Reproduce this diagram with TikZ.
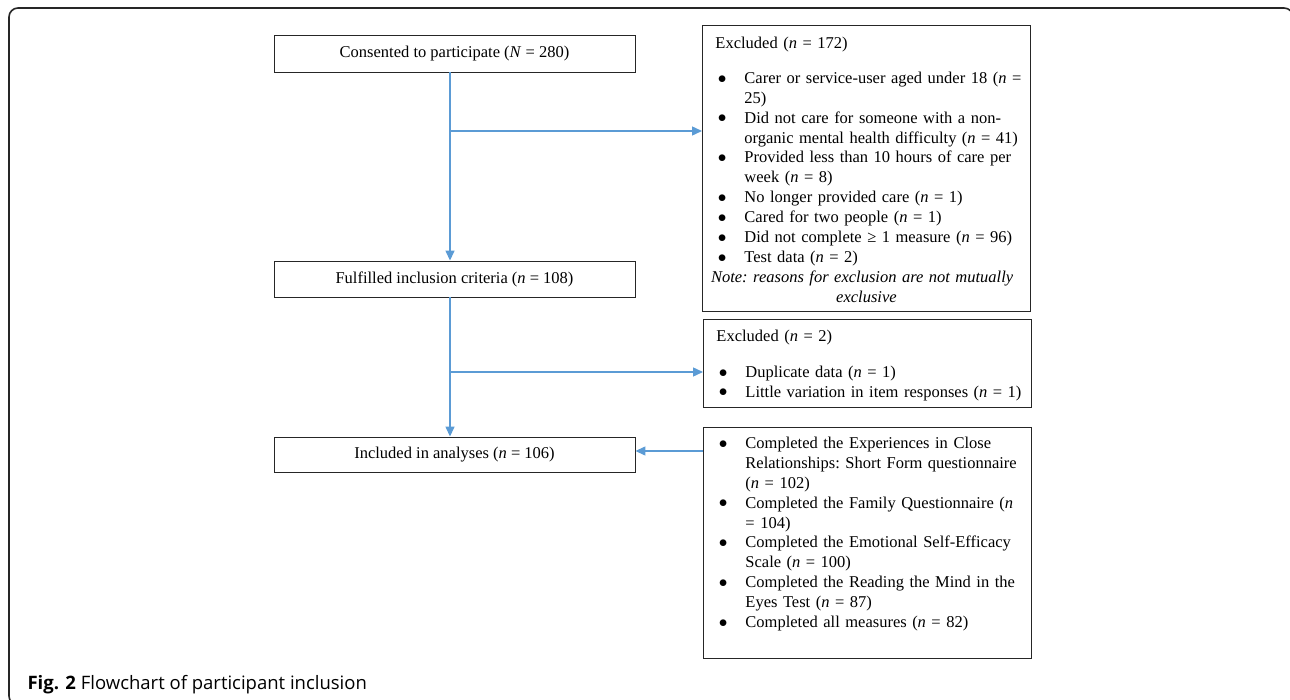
\documentclass[tikz,border=0pt]{standalone}
\usepackage{fontspec}
\setmainfont{Liberation Serif}
\newfontfamily\capfont{Open Sans}
\usetikzlibrary{arrows.meta}
\definecolor{flowblue}{RGB}{91,155,213}
\tikzset{
	stage/.style={draw=black!85, line width=0.9pt, minimum width=361pt, inner sep=0pt, font=\fontsize{16.5}{19.9}\selectfont},
	exbox/.style={draw=black!85, line width=0.9pt, anchor=north west, text width=328pt, inner sep=0pt, font=\fontsize{16.5}{19.9}\selectfont\frenchspacing},
	flow/.style={flowblue, line width=1.4pt, -{Triangle[length=10pt,width=9pt]}}
}
\def\exhead{\raggedright\leftskip=13pt\rightskip=0pt plus 1fil\relax}
\def\exitem#1{\hangindent=29pt\hangafter=1\noindent\hbox to 29pt{\hskip2.5pt\raisebox{0.3pt}{$\bullet$}\hfil}#1\par}

\begin{document}
\begin{tikzpicture}[x=1pt, y=-1pt]
			%%%%% START %%%%%
			
			\useasboundingbox (0,0) rectangle (1290,700);
			\clip (0,0) rectangle (1290,700);
			\draw[line width=1.6pt, black!85, rounded corners=9pt] (9,8) rectangle (1293,705);
			
			\node[stage, minimum height=37pt] (consent) at (454.5,53.5) {Consented to participate (\textit{N} = 280)};
			\node[stage, minimum height=36pt] (fulfil) at (454.5,279) {Fulfilled inclusion criteria (\textit{n} = 108)};
			\node[stage, minimum height=35pt] (incl) at (454.5,454.5) {Included in analyses (\textit{n} = 106)};
			
			\node[exbox, text height=23pt, text depth=263pt] (excl1) at (702,25) {\exhead Excluded (\textit{n} = 172)\par\vspace{15pt}
				\exitem{Carer or service-user aged under 18 (\textit{n} =\newline 25)}
				\exitem{Did not care for someone with a non-\newline organic mental health difficulty (\textit{n} = 41)}
				\exitem{Provided less than 10 hours of care per\newline week (\textit{n} = 8)}
				\exitem{No longer provided care (\textit{n} = 1)}
				\exitem{Cared for two people (\textit{n} = 1)}
				\exitem{Did not complete ≥ 1 measure (\textit{n} = 96)}
				\exitem{Test data (\textit{n} = 2)}
				{\centering\itshape Note: reasons for exclusion are not mutually\newline exclusive\par}};
			
			\node[exbox, text height=22pt, text depth=66pt] (excl2) at (703,319) {\exhead Excluded (\textit{n} = 2)\par\vspace{16pt}
				\exitem{Duplicate data (\textit{n} = 1)}
				\exitem{Little variation in item responses (\textit{n} = 1)}};
			
			\node[exbox, text height=21pt, text depth=210pt] (measures) at (703,427) {\exhead
				\exitem{Completed the Experiences in Close\newline Relationships: Short Form questionnaire\newline (\textit{n} = 102)}
				\exitem{Completed the Family Questionnaire (\textit{n}\newline = 104)}
				\exitem{Completed the Emotional Self-Efficacy\newline Scale (\textit{n} = 100)}
				\exitem{Completed the Reading the Mind in the\newline Eyes Test (\textit{n} = 87)}
				\exitem{Completed all measures (\textit{n} = 82)}};
			
			% flow lines
			\coordinate (split1) at (450,131);
			\coordinate (split2) at (450,372);
			\draw[flow] (consent.south -| split1) -- (fulfil.north -| split1);
			\draw[flow] (split1) -- (split1 -| excl1.west);
			\draw[flow] (fulfil.south -| split2) -- (incl.north -| split2);
			\draw[flow] (split2) -- (split2 -| excl2.west);
			\draw[flow] ([yshift=3.5pt]incl.east -| measures.west) -- ([yshift=3.5pt]incl.east);
			
			\node[anchor=base west, font=\capfont\fontsize{18.5}{22}\selectfont] (caption) at (24,689) {\textbf{Fig. 2} Flowchart of participant inclusion};
			
			%%%%% END %%%%%
\end{tikzpicture}
\end{document}
